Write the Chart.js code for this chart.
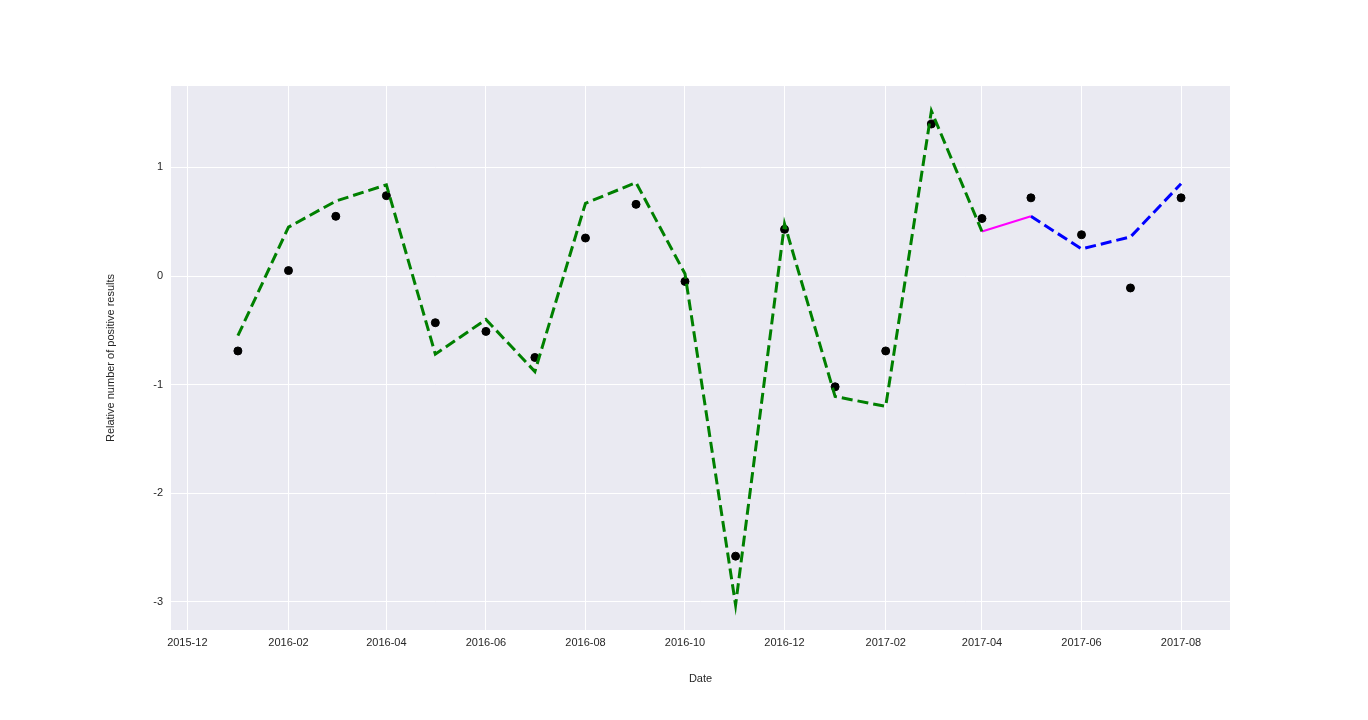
<!DOCTYPE html>
<html>
<head>
<meta charset="utf-8">
<script src="https://cdn.jsdelivr.net/npm/chart.js@4"></script>
<style>
  body { margin: 0; background: #fff; }
</style>
</head>
<body>
<canvas id="chart" width="1368" height="720"></canvas>
<script>
const months = ['2016-01','2016-02','2016-03','2016-04','2016-05','2016-06','2016-07','2016-08','2016-09','2016-10',
  '2016-11','2016-12','2017-01','2017-02','2017-03','2017-04','2017-05','2017-06','2017-07','2017-08'];
const observed = [-0.69, 0.05, 0.55, 0.74, -0.43, -0.51, -0.75, 0.35, 0.66, -0.05,
  -2.58, 0.43, -1.02, -0.69, 1.40, 0.53, 0.72, 0.38, -0.11, 0.72];
const fitMonths = months.slice(0, 16);
const fitted = [-0.55, 0.45, 0.69, 0.84, -0.72, -0.40, -0.88, 0.67, 0.86, 0.02,
  -3.03, 0.48, -1.11, -1.20, 1.52, 0.41];
const bridgeMonths = ['2017-04', '2017-05'];
const bridge = [0.41, 0.55];
const forecastMonths = ['2017-05', '2017-06', '2017-07', '2017-08'];
const forecast = [0.55, 0.25, 0.36, 0.85];
const tickMonths = ['2015-12','2016-02','2016-04','2016-06','2016-08','2016-10','2016-12',
  '2017-02','2017-04','2017-06','2017-08'];

const base = Date.UTC(2015, 11, 1);
const day = m => { const [y, mo] = m.split('-').map(Number); return (Date.UTC(y, mo - 1, 1) - base) / 86400000; };
const label = {};
tickMonths.forEach(m => label[day(m)] = m);
const pts = (ms, vs) => ms.map((m, i) => ({ x: day(m), y: vs[i] }));

const bgPlugin = {
  id: 'bg',
  beforeDraw(chart) {
    const { ctx, chartArea: a } = chart;
    ctx.save();
    ctx.fillStyle = '#EAEAF2';
    ctx.fillRect(a.left, a.top, a.right - a.left, a.bottom - a.top);
    ctx.restore();
  }
};

const font = { family: 'Liberation Sans, Arial, sans-serif', size: 11 };

new Chart(document.getElementById('chart'), {
  type: 'scatter',
  data: {
    datasets: [
      { data: pts(fitMonths, fitted), showLine: true, borderColor: 'green', borderWidth: 3,
        borderDash: [11, 5], pointRadius: 0, fill: false },
      { data: pts(bridgeMonths, bridge), showLine: true, borderColor: '#ff00ff', borderWidth: 2,
        pointRadius: 0, fill: false },
      { data: pts(forecastMonths, forecast), showLine: true, borderColor: 'blue', borderWidth: 3,
        borderDash: [11, 5], pointRadius: 0, fill: false },
      { data: pts(months, observed), backgroundColor: 'black', borderColor: 'black', pointRadius: 4 }
    ]
  },
  options: {
    responsive: false,
    animation: false,
    layout: { padding: { left: 100, right: 138, top: 86, bottom: 30 } },
    plugins: { legend: { display: false }, tooltip: { enabled: false } },
    scales: {
      x: {
        type: 'linear', min: -10, max: day('2017-08') + 30,
        afterFit: s => { s.height = 60; },
        afterBuildTicks: s => { s.ticks = tickMonths.map(m => ({ value: day(m) })); },
        ticks: { callback: v => label[v] || '', color: '#262626', font, padding: 6, maxRotation: 0 },
        grid: { color: '#fff', lineWidth: 1, drawTicks: false },
        border: { display: false },
        title: { display: true, text: 'Date', color: '#262626', font, padding: { top: 2 } }
      },
      y: {
        min: -3.26, max: 1.75,
        afterFit: s => { s.width = 71; },
        afterBuildTicks: s => { s.ticks = [-3, -2, -1, 0, 1].map(v => ({ value: v })); },
        ticks: { color: '#262626', font, padding: 8 },
        grid: { color: '#fff', lineWidth: 1, drawTicks: false },
        border: { display: false },
        title: { display: true, text: 'Relative number of positive results', color: '#262626', font }
      }
    }
  },
  plugins: [bgPlugin]
});
</script>
</body>
</html>
